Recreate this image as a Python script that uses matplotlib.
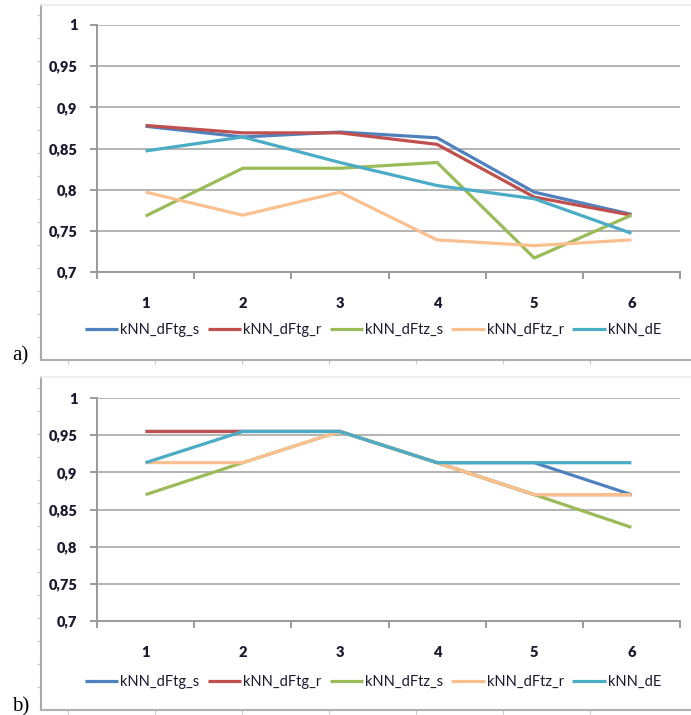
import numpy as np
import matplotlib
matplotlib.use("Agg")
import matplotlib.pyplot as plt

W, H = 691, 715

categories = [1, 2, 3, 4, 5, 6]
series_names = ["kNN_dFtg_s", "kNN_dFtg_r", "kNN_dFtz_s", "kNN_dFtz_r", "kNN_dE"]
colors = ["#4F81BD", "#C0504D", "#9BBB59", "#FAC08F", "#4BACC6"]

# panel a)
a_dftg_s = [0.877, 0.864, 0.870, 0.863, 0.797, 0.770]
a_dftg_r = [0.878, 0.869, 0.869, 0.855, 0.791, 0.769]
a_dftz_s = [0.768, 0.826, 0.826, 0.833, 0.717, 0.769]
a_dftz_r = [0.797, 0.769, 0.797, 0.739, 0.732, 0.739]
a_de = [0.847, 0.864, 0.833, 0.805, 0.789, 0.747]

# panel b)
b_dftg_s = [0.955, 0.955, 0.955, 0.913, 0.913, 0.870]
b_dftg_r = [0.955, 0.955, 0.955, 0.913, 0.870, 0.870]
b_dftz_s = [0.870, 0.913, 0.955, 0.913, 0.870, 0.826]
b_dftz_r = [0.913, 0.913, 0.955, 0.913, 0.870, 0.870]
b_de = [0.913, 0.955, 0.955, 0.913, 0.913, 0.913]

y_ticks = [0.7, 0.75, 0.8, 0.85, 0.9, 0.95, 1.0]
y_labels = ["0,7", "0,75", "0,8", "0,85", "0,9", "0,95", "1"]

plt.rcParams["font.family"] = ["Lato", "DejaVu Sans"]

fig = plt.figure(figsize=(W / 100, H / 100), dpi=100)


def fx(px):
    return px / W


def fy(py):
    return 1 - py / H


def frame(top, bottom):
    # outer gray box around each chart
    fr = fig.add_axes([fx(41), fy(bottom), fx(W + 5 - 41), (bottom - top) / H])
    fr.set_xlim(0, 1)
    fr.set_ylim(0, 1)
    fr.patch.set_alpha(0)
    fr.spines["right"].set_visible(False)
    fr.spines["left"].set_color("#a8a8a8")
    fr.spines["left"].set_linewidth(1.5)
    fr.spines["bottom"].set_color("#b0b0b0")
    fr.spines["bottom"].set_linewidth(1.5)
    fr.spines["top"].set_color("#ececec")
    fr.spines["top"].set_linewidth(1.2)
    n_left = int((bottom - top) / 23)
    fr.set_yticks(np.arange(1, n_left + 1) * 23 / (bottom - top))
    fr.set_xticks(np.arange(1, 8) * 87 / (W + 5 - 41) - 60 / (W + 5 - 41))
    fr.tick_params(axis="both", direction="out", length=3, color="#c8c8c8",
                   labelleft=False, labelbottom=False)
    fr.set_zorder(0)
    return fr


def panel(top, bottom, data, legend_y):
    ax = fig.add_axes([fx(97), fy(bottom), fx(680 - 97), (bottom - top) / H])
    for name, vals, c in zip(series_names, data, colors):
        ax.plot(categories, vals, color=c, lw=2.3, label=name,
                solid_capstyle="butt", solid_joinstyle="round", zorder=3)
    ax.set_xlim(0.5, 6.5)
    ax.set_ylim(0.7, 1.0)
    ax.set_yticks(y_ticks)
    ax.set_yticklabels(y_labels)
    ax.set_xticks(categories)
    ax.set_xticks(np.arange(0.5, 7.0, 1.0), minor=True)
    ax.yaxis.grid(True, color="#b3b3b3", lw=1.4)
    ax.set_axisbelow(True)
    for s in ["top", "right"]:
        ax.spines[s].set_visible(False)
    ax.spines["left"].set_color("#9a9a9a")
    ax.spines["left"].set_linewidth(1.4)
    ax.spines["bottom"].set_color("#9a9a9a")
    ax.spines["bottom"].set_linewidth(1.4)
    ax.tick_params(axis="y", direction="out", length=5, width=1.4, color="#9a9a9a",
                   pad=9, labelsize=10.5, labelcolor="#1a1a2e")
    ax.tick_params(axis="x", which="major", length=0, pad=18,
                   labelsize=10.5, labelcolor="#1a1a2e")
    ax.tick_params(axis="x", which="minor", direction="out", length=5, width=1.4,
                   color="#9a9a9a")
    for lab in ax.get_xticklabels() + ax.get_yticklabels():
        lab.set_fontweight("heavy")
    ax.patch.set_alpha(0)
    ax.set_zorder(2)
    fig.legend(*ax.get_legend_handles_labels(), loc="center",
               bbox_to_anchor=(fx(373), fy(legend_y)), ncol=5, frameon=False,
               fontsize=10.5, handlelength=2.3, handletextpad=0.15,
               columnspacing=0.55, labelcolor="#1a1a2e")
    return ax


frame(5, 360)
frame(377, 710)
panel(25, 272, [a_dftg_s, a_dftg_r, a_dftz_s, a_dftz_r, a_de], 330)
panel(398, 621, [b_dftg_s, b_dftg_r, b_dftz_s, b_dftz_r, b_de], 682)

fig.text(fx(12), fy(360), "a)", family=["Liberation Serif", "DejaVu Serif"],
         fontsize=15, va="baseline", ha="left")
fig.text(fx(12), fy(711), "b)", family=["Liberation Serif", "DejaVu Serif"],
         fontsize=15, va="baseline", ha="left")

fig.savefig("out.png", dpi=100)
